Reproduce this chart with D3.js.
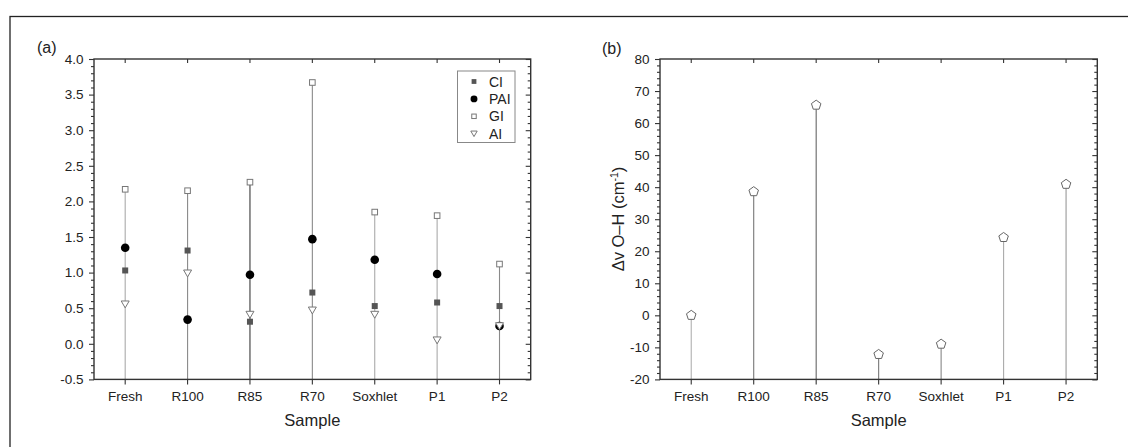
<!DOCTYPE html>
<html>
<head>
<meta charset="utf-8">
<script src="https://cdn.jsdelivr.net/npm/d3@7"></script>
<style>
  html, body { margin: 0; padding: 0; background: #fff; }
  svg { display: block; }
  text { font-family: "Liberation Sans", Arial, Helvetica, sans-serif; fill: #222; }
</style>
</head>
<body>
<svg id="chart" width="1128" height="447"></svg>
<script>
// ---- data ----
const samples = ["Fresh", "R100", "R85", "R70", "Soxhlet", "P1", "P2"];
const CI  = [1.03, 1.31, 0.31, 0.72, 0.53, 0.58, 0.53];
const PAI = [1.35, 0.34, 0.97, 1.47, 1.18, 0.98, 0.25];
const GI  = [2.17, 2.15, 2.27, 3.67, 1.85, 1.80, 1.12];
const AI  = [0.555, 0.99, 0.41, 0.47, 0.41, 0.05, 0.25];
const dvOH = [0, 38.6, 65.6, -12.2, -9.0, 24.3, 40.9];
const yTicksA = [-0.5, 0, 0.5, 1, 1.5, 2, 2.5, 3, 3.5, 4];
const yTicksB = [-20, -10, 0, 10, 20, 30, 40, 50, 60, 70, 80];
const legendNames = ["CI", "PAI", "GI", "AI"];

// ---- styles (not data) ----
const stemColorsA = ["#aaa", "#8a8a8a", "#3a3a3a", "#8a8a8a", "#aaa", "#aaa", "#8a8a8a"];
const stemColorsB = ["#b0b0b0", "#777", "#666", "#777", "#888", "#aaa", "#999"];

const svg = d3.select("#chart");
const axisColor = "#333";
const hyph = f => v => f(v).replace("\u2212", "-");

// outer frame (right/bottom cut off)
svg.append("rect").attr("x", 10).attr("y", 16.5).attr("width", 1300).attr("height", 600)
  .attr("fill", "none").attr("stroke", "#222").attr("stroke-width", 1.3);

function styleAxis(g) {
  g.select(".domain").remove();
  g.selectAll("line").attr("stroke", axisColor).attr("stroke-width", 1.1);
  g.selectAll("text").attr("font-size", "13.5px").attr("fill", "#222")
    .style("font-family", '"Liberation Sans", Arial, sans-serif');
}

function makePanel(opt) {
  const {left, right, top, bottom, domain, ticks, minorStep, fmt} = opt;
  const g = svg.append("g");
  const x = d3.scaleBand().domain(samples).range([left, right]).paddingInner(0).paddingOuter(0);
  const y = d3.scaleLinear().domain(domain).range([bottom, top]);
  const minors = d3.range(domain[0], domain[1] + minorStep / 2, minorStep)
    .map(v => +v.toFixed(6)).filter(v => !ticks.some(t => Math.abs(t - v) < 1e-6));

  g.append("g").attr("transform", `translate(${left},0)`)
    .call(d3.axisLeft(y).tickValues(ticks).tickSize(5).tickPadding(5.5).tickFormat(fmt))
    .call(styleAxis);
  g.append("g").attr("transform", `translate(${left},0)`)
    .call(d3.axisLeft(y).tickValues(minors).tickSize(3).tickFormat(""))
    .call(styleAxis);
  g.append("g").attr("transform", `translate(${right},0)`)
    .call(d3.axisLeft(y).tickValues(ticks).tickSize(5).tickFormat(""))
    .call(styleAxis);
  g.append("g").attr("transform", `translate(${right},0)`)
    .call(d3.axisLeft(y).tickValues(minors).tickSize(3).tickFormat(""))
    .call(styleAxis);
  g.append("g").attr("transform", `translate(0,${bottom})`)
    .call(d3.axisBottom(x).tickSize(5).tickPadding(7.5))
    .call(styleAxis);
  g.append("g").attr("transform", `translate(0,${top})`)
    .call(d3.axisBottom(x).tickSize(4).tickFormat(""))
    .call(styleAxis);

  return {g, x, y};
}

function drawFrame(g, left, right, top, bottom) {
  g.append("rect").attr("x", left).attr("y", top).attr("width", right - left).attr("height", bottom - top)
    .attr("fill", "none").attr("stroke", axisColor).attr("stroke-width", 1.4);
}

// ================= Panel (a) =================
const A = {left: 94, right: 530.7, top: 59, bottom: 379.4};
const pa = makePanel({...A, domain: [-0.5, 4.0], ticks: yTicksA, minorStep: 0.1, fmt: hyph(d3.format(".1f"))});
const xa = pa.x, ya = pa.y, cxa = d => xa(d) + xa.bandwidth() / 2;

pa.g.append("g").selectAll("line").data(samples).join("line")
  .attr("x1", d => cxa(d)).attr("x2", d => cxa(d))
  .attr("y1", ya(-0.5))
  .attr("y2", (d, i) => ya(Math.max(CI[i], PAI[i], GI[i], AI[i])))
  .attr("stroke", (d, i) => stemColorsA[i]).attr("stroke-width", 1.1);

const sym = {
  CI: (s, px, py, k = 1) => s.append("rect").attr("x", px - 3 * k).attr("y", py - 3 * k)
        .attr("width", 6 * k).attr("height", 6 * k).attr("fill", "#555").attr("stroke", "none"),
  PAI: (s, px, py, k = 1) => s.append("circle").attr("cx", px).attr("cy", py).attr("r", 4.3 * k).attr("fill", "#000"),
  GI: (s, px, py, k = 1) => s.append("rect").attr("x", px - 2.8 * k).attr("y", py - 2.8 * k)
        .attr("width", 5.6 * k).attr("height", 5.6 * k).attr("fill", "#fff").attr("stroke", "#777").attr("stroke-width", 1),
  AI: (s, px, py, k = 1) => s.append("path")
        .attr("d", `M${px - 4 * k},${py - 3.3 * k}L${px + 4 * k},${py - 3.3 * k}L${px},${py + 3.6 * k}Z`)
        .attr("fill", "#fff").attr("stroke", "#777").attr("stroke-width", 1)
};
const seriesA = {CI, PAI, GI, AI};
const markG = pa.g.append("g");
legendNames.forEach(name => {
  samples.forEach((s, i) => sym[name](markG, cxa(s), ya(seriesA[name][i])));
});
drawFrame(pa.g, A.left, A.right, A.top, A.bottom);

const lg = pa.g.append("g");
lg.append("rect").attr("x", 457.5).attr("y", 71).attr("width", 57.5).attr("height", 71.5)
  .attr("fill", "#fff").attr("stroke", "#888").attr("stroke-width", 1);
legendNames.forEach((name, i) => {
  const ly = 81.5 + i * 17.4;
  sym[name](lg, 474, ly, 0.8);
  lg.append("text").attr("x", 489).attr("y", ly).attr("dy", "0.36em")
    .attr("font-size", "14px").text(name);
});

svg.append("text").attr("x", 37).attr("y", 52.5).attr("font-size", "16px").text("(a)");
svg.append("text").attr("x", A.left + (A.right - A.left) / 2).attr("y", 426)
  .attr("text-anchor", "middle").attr("font-size", "16.5px").text("Sample");

// ================= Panel (b) =================
const B = {left: 660, right: 1097.3, top: 59, bottom: 379.4};
const pb = makePanel({...B, domain: [-20, 80], ticks: yTicksB, minorStep: 2, fmt: hyph(d3.format("d"))});
const xb = pb.x, yb = pb.y, cxb = d => xb(d) + xb.bandwidth() / 2;

pb.g.append("g").selectAll("line").data(samples).join("line")
  .attr("x1", d => cxb(d)).attr("x2", d => cxb(d))
  .attr("y1", yb(-20)).attr("y2", (d, i) => yb(dvOH[i]))
  .attr("stroke", (d, i) => stemColorsB[i]).attr("stroke-width", 1.1);

const pent = (r) => d3.range(5).map(k => {
  const a = -Math.PI / 2 + k * 2 * Math.PI / 5;
  return [r * Math.cos(a), r * Math.sin(a)];
});
pb.g.append("g").selectAll("path").data(samples).join("path")
  .attr("transform", (d, i) => `translate(${cxb(d)},${yb(dvOH[i])})`)
  .attr("d", "M" + pent(5).map(p => p.join(",")).join("L") + "Z")
  .attr("fill", "#fff").attr("stroke", "#666").attr("stroke-width", 1);
drawFrame(pb.g, B.left, B.right, B.top, B.bottom);

svg.append("text").attr("x", 602).attr("y", 53.5).attr("font-size", "16px").text("(b)");
svg.append("text").attr("x", B.left + (B.right - B.left) / 2).attr("y", 426)
  .attr("text-anchor", "middle").attr("font-size", "16.5px").text("Sample");

const yt = svg.append("text").attr("transform", "translate(624,219) rotate(-90)")
  .attr("text-anchor", "middle").attr("font-size", "16.5px");
yt.append("tspan").text("Δv O–H (cm");
yt.append("tspan").attr("font-size", "10.5px").attr("dy", "-0.55em").text("-1");
yt.append("tspan").attr("dy", "0.35em").text(")");
</script>
</body>
</html>
